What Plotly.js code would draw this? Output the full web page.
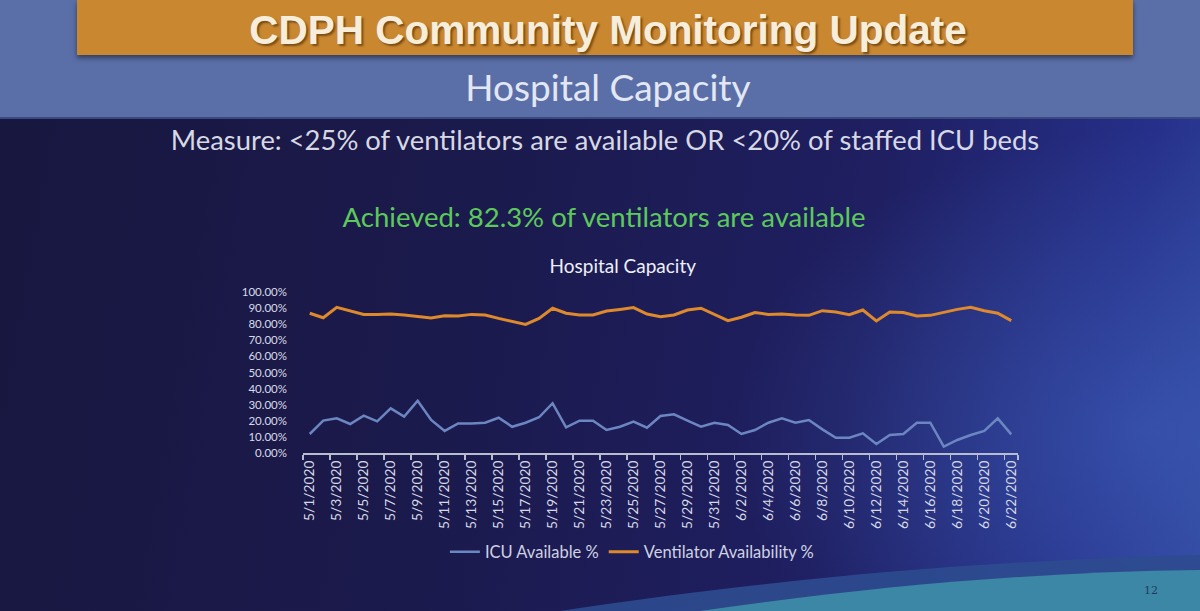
<!DOCTYPE html>
<html>
<head>
<meta charset="utf-8">
<script src="https://cdn.plot.ly/plotly-3.0.1.min.js"></script>
<style>
  html, body { margin:0; padding:0; width:1200px; height:611px; overflow:hidden; }
  #slide { position:absolute; left:0; top:0; width:1200px; height:611px;
    background: linear-gradient(100deg, #18173f 0%, #1b1a4d 40%, #1f1f62 70%, #26308a 90%, #2f439a 100%); }
  #glow { position:absolute; left:0; top:0; width:1200px; height:611px;
    background: radial-gradient(ellipse 420px 300px at 1150px 430px, rgba(70,110,200,0.45), rgba(70,110,200,0) 100%); }
  #band { position:absolute; left:0; top:0; width:1200px; height:117px; background:#5a6fa7;
    border-bottom:2px solid #3a4a80; }
  #banner { position:absolute; left:77px; top:0; width:1056px; height:55px; background:#c9872f;
    box-shadow: 0 3px 5px rgba(0,0,0,0.45); }
  .txt { position:absolute; left:0; width:1200px; text-align:center; white-space:nowrap; line-height:1; }
  #t1 { top:10px; font-family:"Liberation Sans", Arial, sans-serif; font-weight:bold; font-size:40.5px;
    color:#f6eedb; text-shadow: 2px 2px 2px rgba(60,30,0,0.55); left:8px; }
  #t2 { top:68px; font-family:Lato, "Open Sans", sans-serif; font-size:37px; color:#e2e7f3; left:8px; }
  #t3 { top:126px; font-family:Lato, "Open Sans", sans-serif; font-size:27.4px; color:#d7d8e4; left:5px; }
  #t4 { top:203px; font-family:Lato, "Open Sans", sans-serif; font-size:27.5px; color:#5cc95a; left:4px; }
  #pg { position:absolute; left:1144px; top:584px; font-family:"DejaVu Serif", serif; font-size:11px; color:#1e3d5e; }
  #deco { position:absolute; left:0; top:0; }
  #chart { position:absolute; left:0; top:0; width:1200px; height:611px; }
</style>
</head>
<body>
<div id="slide"></div>
<div id="glow"></div>
<svg id="deco" width="1200" height="611">
  <path d="M 560 611 C 800 575, 1000 560, 1200 555 L 1200 611 Z" fill="#2d4b8f" opacity="0.9"/>
  <path d="M 700 611 C 880 585, 1040 572, 1200 570 L 1200 611 Z" fill="#3d87a6"/>
</svg>
<div id="band"></div>
<div id="banner"></div>
<div class="txt" id="t1">CDPH Community Monitoring Update</div>
<div class="txt" id="t2">Hospital Capacity</div>
<div class="txt" id="t3">Measure: &lt;25% of ventilators are available OR &lt;20% of staffed ICU beds</div>
<div class="txt" id="t4">Achieved: 82.3% of ventilators are available</div>
<div id="pg">12</div>
<div id="chart"></div>
<script>
// Dates 5/1/2020 .. 6/22/2020
const dates = [
  "5/1/2020","5/2/2020","5/3/2020","5/4/2020","5/5/2020","5/6/2020","5/7/2020","5/8/2020","5/9/2020","5/10/2020",
  "5/11/2020","5/12/2020","5/13/2020","5/14/2020","5/15/2020","5/16/2020","5/17/2020","5/18/2020","5/19/2020","5/20/2020",
  "5/21/2020","5/22/2020","5/23/2020","5/24/2020","5/25/2020","5/26/2020","5/27/2020","5/28/2020","5/29/2020","5/30/2020",
  "5/31/2020","6/1/2020","6/2/2020","6/3/2020","6/4/2020","6/5/2020","6/6/2020","6/7/2020","6/8/2020","6/9/2020",
  "6/10/2020","6/11/2020","6/12/2020","6/13/2020","6/14/2020","6/15/2020","6/16/2020","6/17/2020","6/18/2020","6/19/2020",
  "6/20/2020","6/21/2020","6/22/2020"
];
const icuAvailable = [
  11.8,20.1,21.5,18.0,23.2,19.7,27.7,22.6,32.5,20.5,
  13.7,18.4,18.4,18.8,21.9,16.3,18.8,22.2,30.9,15.9,
  20.1,20.1,14.3,16.3,19.5,15.7,23.0,24.0,20.1,16.3,
  18.8,17.4,11.8,14.3,18.8,21.5,18.8,20.5,14.7,9.5,
  9.5,12.2,5.6,11.2,11.8,18.8,18.8,3.9,8.1,11.2,
  13.7,21.5,11.6
];
const ventilatorAvailability = [
  86.8,84.0,90.5,88.2,86.1,86.1,86.3,85.7,84.7,83.9,
  85.3,85.1,86.1,85.7,83.6,81.6,79.9,83.6,89.9,86.8,
  85.7,85.7,88.2,89.2,90.3,86.3,84.7,85.7,88.8,89.9,
  86.1,82.2,84.3,87.2,86.1,86.3,85.7,85.5,88.4,87.6,
  85.9,88.8,82.0,87.6,87.2,85.1,85.5,87.4,89.2,90.5,
  88.4,86.8,82.2
];
const tickLabels = dates.filter((d, i) => i % 2 === 0);
const yTicks = [0,10,20,30,40,50,60,70,80,90,100];
const yTickText = ["0.00%","10.00%","20.00%","30.00%","40.00%","50.00%","60.00%","70.00%","80.00%","90.00%","100.00%"];

const traces = [
  { x: dates, y: icuAvailable, type: "scatter", mode: "lines", name: "ICU Available %",
    line: { color: "#6c86c2", width: 2.5 } },
  { x: dates, y: ventilatorAvailability, type: "scatter", mode: "lines", name: "Ventilator Availability %",
    line: { color: "#de8a2c", width: 3 } }
];

const layout = {
  width: 1200, height: 611,
  paper_bgcolor: "rgba(0,0,0,0)", plot_bgcolor: "rgba(0,0,0,0)",
  margin: { l: 303, r: 182, t: 292, b: 158, pad: 0 },
  showlegend: true,
  title: { text: "Hospital Capacity", x: 0.519, xref: "container", xanchor: "center",
           y: 1 - 266/611, yref: "container", yanchor: "middle",
           font: { family: "Lato, 'Open Sans', sans-serif", size: 19, color: "#eef0f8" } },
  xaxis: {
    type: "category", categoryorder: "array", categoryarray: dates,
    range: [-0.5, 52.5], fixedrange: true,
    tickmode: "array", tickvals: tickLabels, ticktext: tickLabels,
    tickson: "boundaries", ticks: "outside", ticklen: 5, tickcolor: "#b8bccf", tickwidth: 1.5,
    tickangle: -90, tickfont: { family: "Lato, 'Open Sans', sans-serif", size: 13.8, color: "#d6d8e6" },
    showline: true, linecolor: "#b8bccf", linewidth: 2, showgrid: false, zeroline: false
  },
  yaxis: {
    range: [0, 100], fixedrange: true,
    tickmode: "array", tickvals: yTicks, ticktext: yTickText,
    ticks: "", ticklabelstandoff: 15,
    tickfont: { family: "'Liberation Sans Narrow', Lato, sans-serif", size: 11.5, color: "#d9dbe8" },
    showline: false, showgrid: false, zeroline: false
  },
  legend: { orientation: "h", x: 0.46, xanchor: "center", y: -0.615, yanchor: "middle",
            bgcolor: "rgba(0,0,0,0)",
            font: { family: "Lato, 'Open Sans', sans-serif", size: 16.5, color: "#cfd2e2" } }
};

Plotly.newPlot("chart", traces, layout, { staticPlot: true, displayModeBar: false });
</script>
</body>
</html>
